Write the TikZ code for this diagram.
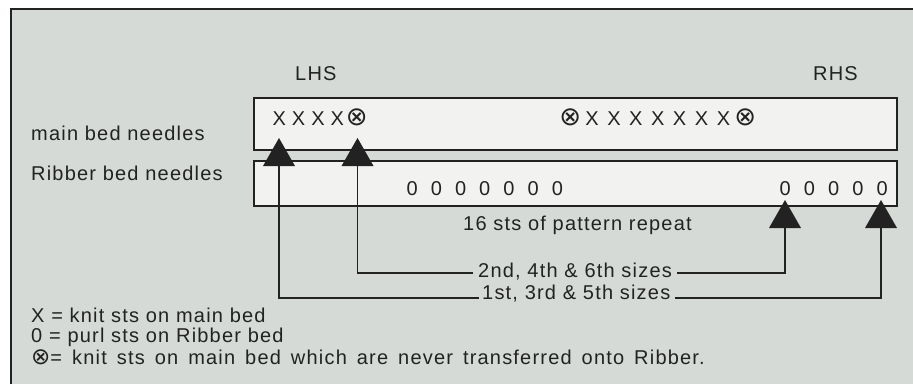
\documentclass[tikz,border=0pt]{standalone}
\usepackage{fontspec}
\setmainfont{Liberation Sans}[LetterSpace=6]
\newfontfamily\symf{DejaVu Sans}
\newcommand{\ox}{{\symf\fontsize{26}{26}\selectfont ⊗}}
\newcommand{\oxs}{{\symf\fontsize{23}{23}\selectfont ⊗}}
\newcommand{\gc}[2]{\makebox[#1pt]{#2}}
\definecolor{bg}{RGB}{213,218,214}
\definecolor{boxfill}{RGB}{242,243,240}
\definecolor{ink}{RGB}{34,34,34}
\begin{document}
\begin{tikzpicture}[x=1pt,y=-1pt,
  txt/.style={inner sep=0pt, text=ink, font=\fontsize{20}{23}\selectfont, anchor=base west},
  bedbox/.style={draw=ink, line width=1.8pt, fill=boxfill, inner sep=0pt, anchor=north west},
  conn/.style={draw=ink, line width=1.4pt},
  tri/.style={fill=ink}]
\useasboundingbox (0,0) rectangle (913,384);
\fill[white] (0,0) rectangle (913,384);
\fill[bg] (11,9) rectangle (913,384);
\draw[ink, line width=1.5pt] (11,384) -- (11,9) -- (913,9);

% labels
\node[txt] (lhs) at (295,80) {LHS};
\node[txt] (rhs) at (813,80) {RHS};
\node[txt] (mbn) at (31,140) {main bed needles};
\node[txt] (rbn) at (31,180) {Ribber bed needles};

% beds
\node[bedbox, minimum width=643pt, minimum height=52pt] (main) at (253,97) {};
\node[bedbox, minimum width=643pt, minimum height=45pt] (rib) at (253,160) {};

% needle rows
\node[txt] (r1) at (269.3,125) {\gc{19.4}{X}\gc{19.4}{X}\gc{19.4}{X}\gc{19.4}{X}\gc{19.4}{\ox}};
\node[txt] (r2) at (559,125) {\gc{21.9}{\ox}\gc{21.9}{X}\gc{21.9}{X}\gc{21.9}{X}\gc{21.9}{X}\gc{21.9}{X}\gc{21.9}{X}\gc{21.9}{X}\gc{21.9}{\ox}};
\node[txt] (r3) at (399.9,195) {\gc{24.2}{0}\gc{24.2}{0}\gc{24.2}{0}\gc{24.2}{0}\gc{24.2}{0}\gc{24.2}{0}\gc{24.2}{0}};
\node[txt] (r4) at (772.9,195) {\gc{24.25}{0}\gc{24.25}{0}\gc{24.25}{0}\gc{24.25}{0}\gc{24.25}{0}};

\node[txt] (rep) at (463,230) {16 sts of pattern repeat};
\node[txt] (s2) at (478,277) {2nd, 4th \& 6th sizes};
\node[txt] (s1) at (482,299) {1st, 3rd \& 5th sizes};

% arrowheads
\foreach \n/\x/\tip/\base in {a1/279/138/166, a2/357.5/138/166, a3/785/200/228, a4/881/200/228}{
  \fill[tri] (\x-16,\base) -- (\x,\tip) -- (\x+16,\base) -- cycle;
  \coordinate (\n) at (\x,\base);
}

% connectors
\draw[conn] (a2) |- ([xshift=-5pt,yshift=4pt]s2.base west);
\draw[conn] ([xshift=5pt,yshift=4pt]s2.base east) -| (a3);
\draw[conn] (a1) |- ([xshift=-3pt,yshift=1pt]s1.base west);
\draw[conn] ([xshift=5pt,yshift=1pt]s1.base east) -| (a4);

% legend
\node[txt] (k1) at (31,322) {X = knit sts on main bed};
\node[txt] (k2) at (31,342) {0 = purl sts on Ribber bed};
\node[txt] (k3) at (31,364) {\spaceskip=10pt\relax\oxs= knit sts on main bed which are never transferred onto Ribber.};
\end{tikzpicture}
\end{document}
